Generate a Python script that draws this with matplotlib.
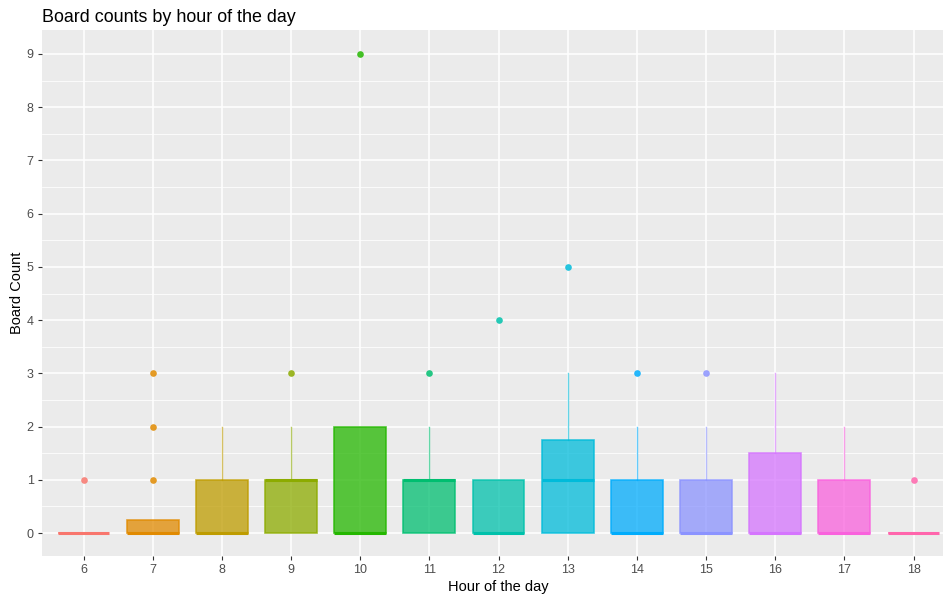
import numpy as np
import matplotlib.pyplot as plt
from matplotlib.colors import to_rgba

# ================= DATA ================= #
HOURS = [6, 7, 8, 9, 10, 11, 12, 13, 14, 15, 16, 17, 18]
Q1 = [0, 0, 0, 0, 0, 0, 0, 0, 0, 0, 0, 0, 0]
MEDIAN = [0, 0, 0, 1, 0, 1, 0, 1, 0, 0, 0, 0, 0]
Q3 = [0, 0.25, 1, 1, 2, 1, 1, 1.75, 1, 1, 1.5, 1, 0]
WHISK_LO = [0, 0, 0, 0, 0, 0, 0, 0, 0, 0, 0, 0, 0]
WHISK_HI = [0, 0.25, 2, 2, 2, 2, 1, 3, 2, 2, 3, 2, 0]
OUTLIERS = [[1], [1, 2, 3], [], [3], [9], [3], [4], [5], [3], [3], [], [], [1]]

COLORS = ["#F8766D", "#E18A00", "#BE9C00", "#8CAB00", "#24B700", "#00BE70",
          "#00C1AB", "#00BBDA", "#00ACFC", "#8B93FF", "#D575FE", "#F962DD",
          "#FF65AC"]

# ================= PLOT ================= #
plt.rcParams["font.family"] = ["Liberation Sans", "DejaVu Sans"]

fig = plt.figure(figsize=(9.43, 5.98), dpi=100)
ax = fig.add_axes([42 / 943, 42 / 598, 913 / 943, 526 / 598])
ax.set_facecolor("#EBEBEB")

x = np.arange(len(HOURS))

for i, h in enumerate(HOURS):
    c = COLORS[i]
    stats = [{
        "q1": Q1[i], "med": MEDIAN[i], "q3": Q3[i],
        "whislo": WHISK_LO[i], "whishi": WHISK_HI[i],
        "fliers": OUTLIERS[i], "label": str(h),
    }]
    ax.bxp(
        stats, positions=[x[i]], widths=0.75, patch_artist=True,
        showcaps=False, manage_ticks=False,
        boxprops=dict(facecolor=to_rgba(c, 0.75), edgecolor=to_rgba(c, 0.8), linewidth=1.2),
        medianprops=dict(color=c, linewidth=2.2, solid_capstyle="butt"),
        whiskerprops=dict(color=to_rgba(c, 0.6), linewidth=1.0),
        flierprops=dict(marker="o", markerfacecolor=to_rgba(c, 0.85),
                        markeredgecolor="none", markersize=4.8),
        zorder=3,
    )

ax.set_xlim(-0.6, len(HOURS) - 0.4)
ax.set_ylim(-0.43, 9.45)
ax.set_xticks(x)
ax.set_xticklabels([str(h) for h in HOURS])
ax.set_yticks(range(0, 10))
ax.set_yticks(np.arange(0.5, 9.5, 1), minor=True)

ax.grid(which="major", color="white", linewidth=1.1, zorder=0)
ax.grid(which="minor", axis="y", color="white", linewidth=0.55, zorder=0)
ax.set_axisbelow(True)
for s in ax.spines.values():
    s.set_visible(False)

ax.tick_params(which="major", length=3, width=0.8, color="#333333",
               labelcolor="#4D4D4D", labelsize=9, pad=3)
ax.tick_params(which="minor", length=0)

ax.set_xlabel("Hour of the day", fontsize=10.5, color="black", labelpad=3)
ax.set_ylabel("Board Count", fontsize=10.5, color="black", labelpad=2)
ax.set_title("Board counts by hour of the day", loc="left", fontsize=12.9,
             color="black", pad=6)

fig.savefig("out.png", dpi=100)
